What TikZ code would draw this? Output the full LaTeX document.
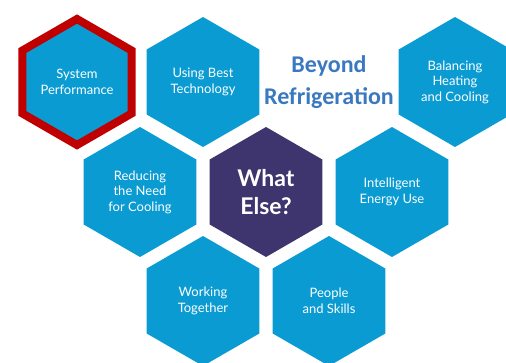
\documentclass[tikz,border=0pt]{standalone}
\usepackage{fontspec}
\usetikzlibrary{shapes.geometric}
\newfontfamily\hexfont{Lato}
\newfontfamily\titlefont{Carlito}
\definecolor{hexblue}{RGB}{10,155,210}
\definecolor{hexpurple}{RGB}{62,52,110}
\definecolor{hexred}{RGB}{192,0,0}
\definecolor{titleblue}{RGB}{58,120,192}
\tikzstyle{hex} = [regular polygon, regular polygon sides=6, shape border rotate=30, minimum size=130pt, inner sep=0pt, fill=hexblue, text=white, align=center, font=\hexfont\fontsize{13}{15.5}\selectfont]
\tikzstyle{hexsel} = [hex, minimum size=126pt, draw=hexred, line width=8pt]
\tikzstyle{core} = [hex, fill=hexpurple, font=\hexfont\bfseries\fontsize{23}{28}\selectfont]
\tikzstyle{title} = [align=center, text=titleblue, font=\titlefont\bfseries\fontsize{24}{32}\selectfont]

\begin{document}
\begin{tikzpicture}[x=1pt, y=1pt, node distance=126pt]
        \useasboundingbox (0,0) rectangle (506,362);
        \node (perf) [hexsel] at (77,280) {System\\Performance};
        \node (tech) [hex, right of=perf] {Using Best\\Technology};
        \node (beyond) [title, right of=tech] {Beyond\\Refrigeration};
        \node (balance) [hex, right of=beyond] {Balancing\\Heating\\and Cooling};
        \node (reduce) [hex, below of=perf, xshift=63pt, yshift=16pt] {Reducing\\the Need\\for Cooling};
        \node (whatelse) [core, right of=reduce] {What\\Else?};
        \node (energy) [hex, right of=whatelse] {Intelligent\\Energy Use};
        \node (together) [hex, below of=reduce, xshift=63pt, yshift=17pt] {Working\\Together};
        \node (people) [hex, right of=together] {People\\and Skills};
    \end{tikzpicture}
\end{document}
